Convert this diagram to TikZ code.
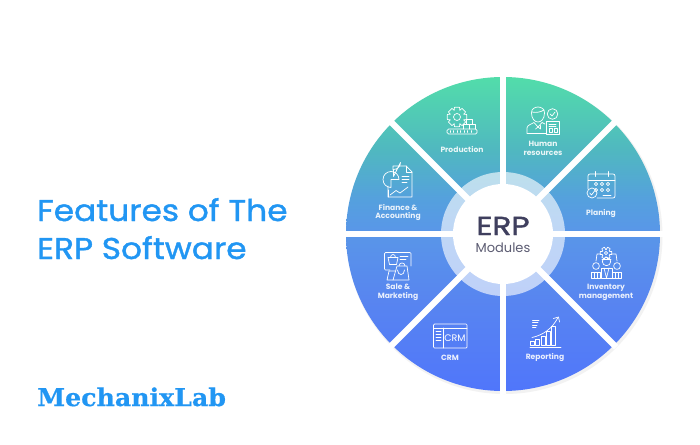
\documentclass[tikz,border=0pt]{standalone}
\usepackage{fontspec}
\setmainfont{Poppins}
\newfontfamily\logofont[FakeStretch=1.03,FakeBold=0.6]{DejaVu Serif}
\newfontfamily\titlefont[FakeStretch=1.095,FakeBold=1.3]{Poppins}
\newfontfamily\erpfont[FakeStretch=1.2,FakeBold=1.6]{Poppins}
\definecolor{titleblue}{HTML}{2196F3}
\definecolor{erpdark}{HTML}{3F3F5E}
\definecolor{erpgray}{HTML}{5C5C72}
\definecolor{gA}{RGB}{82,221,170}
\definecolor{gB}{RGB}{80,184,192}
\definecolor{gC}{RGB}{85,160,222}
\definecolor{gD}{RGB}{89,151,232}
\definecolor{gE}{RGB}{88,133,240}
\definecolor{gF}{RGB}{80,118,251}
\pgfdeclareverticalshading{erpgrad}{100bp}{
  color(0bp)=(gF); color(25bp)=(gF); color(39.5bp)=(gE); color(50.6bp)=(gD);
  color(55.4bp)=(gC); color(63.4bp)=(gB); color(75bp)=(gA); color(100bp)=(gA)}
\tikzset{
  ic/.style={draw=white,line width=.7pt,line join=round,line cap=round,fill=none},
  modlabel/.style={text=white,font=\fontsize{7.6}{8.8}\selectfont\bfseries,align=center,inner sep=0pt,opacity=.88},
  titletext/.style={text=titleblue,font=\titlefont\fontsize{30}{36}\selectfont,anchor=base west,inner sep=0pt},
}
\newcommand{\geartool}[5]{% x y inner outer teeth-step
  \begin{scope}[shift={(#1,#2)}]
  \foreach \a in {0,#5,...,359}{
    \draw[ic] (\a-24:#3) -- (\a-14:#4) -- (\a+14:#4) -- (\a+24:#3);
    \draw[ic] (\a+24:#3) -- (\a+#5-24:#3);
  }
  \end{scope}}
\begin{document}
\begin{tikzpicture}[x=1pt,y=-1pt]
\useasboundingbox (0,0) rectangle (700,444);
\fill[white] (0,0) rectangle (700,444);
\coordinate (c) at (503,234);
% soft shadow
\fill[black!5] (504.5,236) circle (158);
% disc
\shade[shading=erpgrad] (c) circle (157);
% ring
\fill[white,opacity=.62] (c) circle (62);
% spokes
\foreach \a in {0,45,...,315}
  \draw[white,line width=6.3pt] (c) -- ++(\a:160);
\fill[white] (c) circle (50);
% centre text
\node[inner sep=0pt,anchor=base,text=erpdark,font=\erpfont\fontsize{26}{26}\selectfont] (erp) at (503,235) {ERP};
\node[inner sep=0pt,anchor=base,text=erpgray,font=\fontsize{13}{14}\selectfont] (mods) at (503,252) {Modules};
% title
\node[titletext] (t1) at (37,221) {Features of The};
\node[titletext] (t2) at (37,259) {ERP Software};
\node[inner sep=0pt,anchor=base west,text=titleblue,font=\logofont\bfseries\fontsize{24.5}{26}\selectfont] (logo) at (37,406) {MechanixLab};
% labels
\node[modlabel] (l1) at (462,149) {Production};
\node[modlabel] (l2) at (543,148.5) {Human\\resources};
\node[modlabel] (l3) at (601,213) {Planing};
\node[modlabel] (l4) at (606,292.5) {Inventory\\management};
\node[modlabel] (l5) at (545,357) {Reporting};
\node[modlabel] (l6) at (450,358) {CRM};
\node[modlabel] (l7) at (398,292.5) {Sale \&\\Marketing};
\node[modlabel] (l8) at (398,212.5) {Finance \&\\Accounting};
% Production icon
\geartool{457}{117}{7.5}{10}{45}
\draw[ic] (457,117) circle (3.5);
\draw[ic,rounded corners=1.5pt] (447,129) rectangle (477,134);
\foreach \x in {450,453.5,...,474} \draw[ic] (\x,130.6) -- (\x,132.4);
\draw[ic] (463,129) -- (463,124) -- (469,124) -- (469,129) (466,124) -- (466,119.5) -- (472,119.5) -- (472,124) (469,124) -- (475,124) -- (475,129);
% Human resources icon
\draw[ic] (531.5,113) .. controls (531,105) and (545,105) .. (544.5,113) .. controls (544.5,119) and (541,122) .. (538,122) .. controls (535,122) and (531.5,119) .. (531.5,113);
\draw[ic] (532,112) .. controls (536,113) and (541,112) .. (544,110);
\draw[ic] (527,133) -- (527,128) .. controls (527,125) and (532,124) .. (534,122.5) -- (538,127) -- (542,122.5) -- (545,124);
\draw[ic] (535.5,129) -- (538,127) -- (540.5,129) -- (540.5,125.5);
\draw[ic] (527,133) -- (546,133);
\draw[ic] (552.5,114) circle (5.3);
\draw[ic] (550.2,114) -- (552,116) -- (555,112);
\draw[ic] (546,121) rectangle (559,134);
\draw[ic] (549,124) -- (556,124) (549,126.5) -- (556,126.5);
\draw[ic] (549,128.5) rectangle (552.5,132) (554,128.5) rectangle (557,132);
% Planing icon
\draw[ic,rounded corners=2pt] (588,189) -- (588,174) -- (615,174) -- (615,198) -- (597,198);
\draw[ic] (588,180) -- (615,180);
\foreach \x in {595,608} \draw[ic] (\x,171.5) -- (\x,176.5);
\foreach \x in {596,602,608} \foreach \y in {184,190} \draw[ic] (\x,\y) circle (1.7);
\draw[ic] (592,193) circle (5);
\draw[ic] (589.8,193) -- (591.5,195) -- (594.5,191);
\draw[ic] (603,195) -- (611,195);
% Inventory icon
\geartool{606}{253}{4}{6}{60}
\draw[ic] (606,253) circle (1.6);
\draw[ic] (600,254) -- (597,254) -- (596,261) (612,254) -- (616,254) -- (617,261);
\foreach \x/\y in {596/266,617/266}{
  \draw[ic] (\x,\y) circle (3.4);
  \draw[ic] (\x-4.8,278) -- (\x-4.8,\y+6.5) -- (\x+4.8,\y+6.5) -- (\x+4.8,278) -- cycle;
  \draw[ic] (\x-1.6,\y+6.5) -- (\x-1.6,278) (\x+1.6,\y+6.5) -- (\x+1.6,278);
}
\draw[ic] (606.5,261.5) circle (4.2);
\draw[ic] (602,259.5) -- (611,259.5);
\draw[ic] (601,278) -- (601,268) -- (612,268) -- (612,278) -- cycle;
\draw[ic] (604,268) -- (606.5,278) -- (609,268);
% Reporting icon
\draw[ic] (530,347) -- (561,347);
\foreach \x/\y in {532.5/341,537.5/339.5,543/336,548/331,553/326}
  \draw[ic] (\x-1.9,345) -- (\x-1.9,\y) -- (\x+1.9,\y) -- (\x+1.9,345) -- cycle;
\draw[ic] (532,337.5) .. controls (543,335) and (552,329) .. (558,317.5);
\draw[ic] (553.5,318.5) -- (558.5,317) -- (559.5,322);
\draw[ic] (532.5,320) -- (539,320) (532.5,322.5) -- (538,322.5) (532.5,325) -- (537,325) (532.5,327.5) -- (536,327.5);
% CRM icon
\draw[ic,rounded corners=1pt] (433.5,324) rectangle (467,348);
\draw[ic] (433.5,328) -- (467,328) (443,328) -- (443,348);
\foreach \y in {331,334,337,340} \draw[ic] (436,\y) -- (441,\y);
\node[inner sep=0pt,text=white,font=\fontsize{9.5}{10}\selectfont] (crmi) at (455,338) {CRM};
% Sale icon
\draw[ic,rounded corners=1pt] (390,270) -- (384.5,270) -- (384.5,252.5) -- (411,252.5) -- (411,266);
\draw[ic] (388,257.5) -- (398,257.5) -- (396.5,264.5) -- (389.5,264.5) -- cycle;
\draw[ic] (390.5,257.5) .. controls (390.5,253.5) and (395.5,253.5) .. (395.5,257.5);
\draw[ic] (400,256.5) -- (408,256.5) (400,259.5) -- (406,259.5);
\draw[ic] (387,280) -- (389,271) -- (395,271) (387,280) -- (393,280);
\draw[ic] (397,266) -- (407,266) -- (409,280) -- (393,280) -- cycle;
\draw[ic] (397.5,270) .. controls (397.5,276) and (404.5,276) .. (404.5,270);
\draw[ic] (399,266) .. controls (399,262) and (405,262) .. (405,266);
% Finance icon
\draw[ic] (388,186) -- (388,197) -- (412,197) -- (412,172) -- (406,166) -- (393,166) -- (393,170);
\draw[ic] (406,166) -- (406,172) -- (412,172);
\draw[ic] (391,179.5) -- (399,179.5) arc (0:-270:8) -- cycle;
\draw[ic] (393.5,176.5) -- (393.5,169.5) arc (90:0:7) -- cycle;
\draw[ic] (402,176) -- (409,176) (402,179) -- (409,179) (402,182) -- (407,182);
\draw[ic] (388,190) -- (388,197);
\draw[ic] (390,195) -- (396,190.5) -- (400,193) -- (408,187);
\end{tikzpicture}
\end{document}
